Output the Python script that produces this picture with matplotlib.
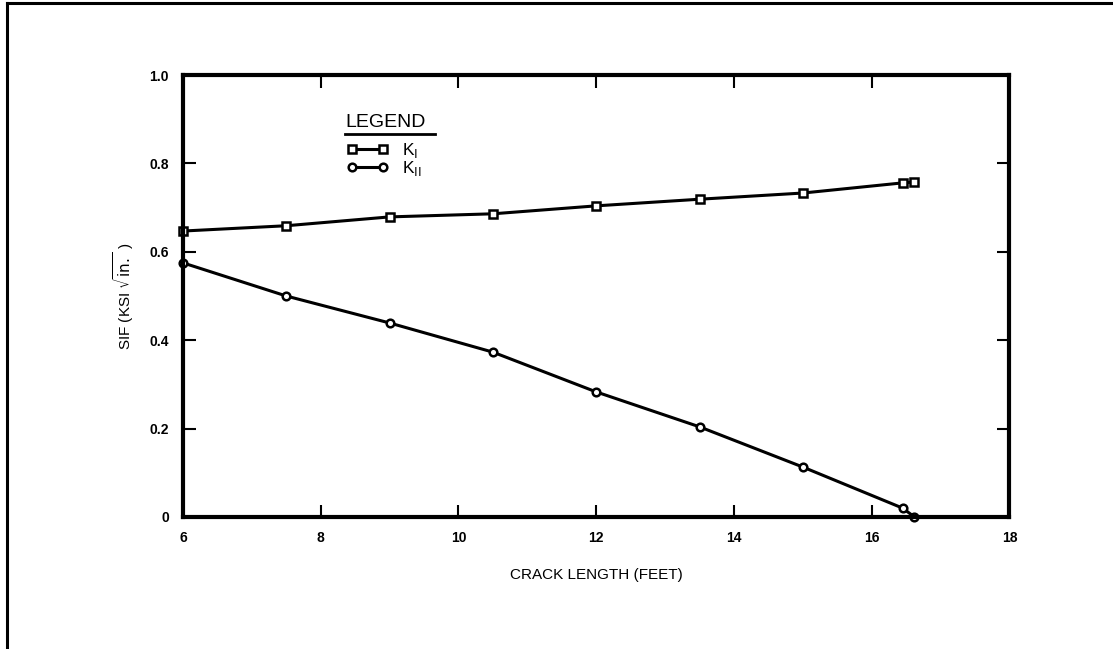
import matplotlib
matplotlib.use("Agg")
import matplotlib.pyplot as plt
from matplotlib.lines import Line2D

plt.rcParams["font.family"] = ["Liberation Sans", "DejaVu Sans"]

# crack length (feet) and stress intensity factors (ksi sqrt(in.))
comprimento_ki = [6.0, 7.5, 9.0, 10.5, 12.0, 13.5, 15.0, 16.45, 16.62]
valores_ki = [0.647, 0.659, 0.679, 0.686, 0.704, 0.719, 0.733, 0.756, 0.758]

comprimento_kii = [6.0, 7.5, 9.0, 10.5, 12.0, 13.5, 15.0, 16.45, 16.62]
valores_kii = [0.575, 0.500, 0.439, 0.373, 0.283, 0.204, 0.113, 0.020, 0.000]

xticks = [6, 8, 10, 12, 14, 16, 18]
yticks = [0, 0.2, 0.4, 0.6, 0.8, 1.0]
ytick_labels = ["0", "0.2", "0.4", "0.6", "0.8", "1.0"]

fig = plt.figure(figsize=(11.13, 6.49), dpi=100)
ax = fig.add_axes([0.1644, 0.2034, 0.7426, 0.681])

estilo = dict(color="black", lw=2.2, markersize=5.5, markerfacecolor="white",
              markeredgecolor="black", markeredgewidth=1.8, clip_on=False)
l1, = ax.plot(comprimento_ki, valores_ki, marker="s", **estilo)
l2, = ax.plot(comprimento_kii, valores_kii, marker="o", **estilo)

ax.set_xlim(6, 18)
ax.set_ylim(0, 1.0)
ax.set_xticks(xticks)
ax.set_yticks(yticks)
ax.set_yticklabels(ytick_labels)
ax.tick_params(direction="in", length=9, width=1.5, top=True, right=True,
               labelsize=10, pad=10)
for lbl in ax.get_xticklabels() + ax.get_yticklabels():
    lbl.set_fontweight("bold")
for s in ax.spines.values():
    s.set_linewidth(3)

ax.set_xlabel("CRACK LENGTH (FEET)", fontsize=11, labelpad=17)
ax.set_ylabel(r"SIF (KSI $\sqrt{\mathrm{in.}}$ )", fontsize=11, labelpad=10)

# legend block
ax.text(0.196, 0.874, "LEGEND", transform=ax.transAxes, fontsize=14,
        ha="left", va="bottom")
ax.add_line(Line2D([0.196, 0.305], [0.867, 0.867], transform=ax.transAxes,
                   color="black", lw=2))
leg = ax.legend([l1, l2], [r"K$_{\mathrm{I}}$", r"K$_{\mathrm{II}}$"],
                loc="upper left", bbox_to_anchor=(0.183, 0.878), frameon=False,
                numpoints=2, handlelength=2.4, handletextpad=0.8,
                labelspacing=-0.05, fontsize=12.5, borderpad=0.2)

# outer frame of the scanned page
fig.add_artist(Line2D([0.0062, 0.0062], [0, 0.996], transform=fig.transFigure,
                      color="black", lw=2.2))
fig.add_artist(Line2D([0.0062, 1.0], [0.996, 0.996], transform=fig.transFigure,
                      color="black", lw=2.2))

fig.savefig("out.png", dpi=100)
